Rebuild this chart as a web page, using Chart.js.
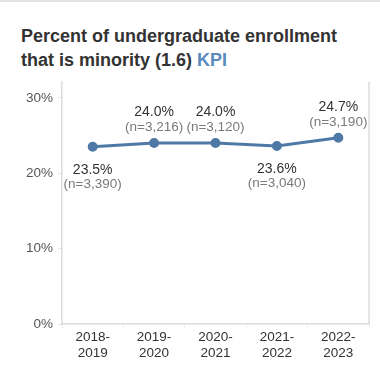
<!DOCTYPE html>
<html>
<head>
<meta charset="utf-8">
<script src="https://cdn.jsdelivr.net/npm/chart.js@4"></script>
<style>
  html, body { margin: 0; padding: 0; background: #fff; }
  body { width: 380px; height: 381px; position: relative; overflow: hidden; border-top: 2px solid #e2e2e2; box-sizing: border-box; }
  #title { position: absolute; left: 21px; top: 22px; font-family: "Liberation Sans", Arial, sans-serif; font-weight: bold; font-size: 18px; line-height: 24px; color: #333; }
  #title .kpi { color: #5b8ac0; }
  #wrap { position: absolute; left: 0; top: -2px; width: 380px; height: 381px; }
</style>
</head>
<body>
<div id="title">Percent of undergraduate enrollment<br>that is minority (1.6) <span class="kpi">KPI</span></div>
<div id="wrap"><canvas id="chart" width="380" height="381"></canvas></div>
<script>
// Datos
const years = [['2018-', '2019'], ['2019-', '2020'], ['2020-', '2021'], ['2021-', '2022'], ['2022-', '2023']];
const pctMinority = [23.5, 24.0, 24.0, 23.6, 24.7];
const nCounts = ['3,390', '3,216', '3,120', '3,040', '3,190'];
const labelSide = ['below', 'above', 'above', 'below', 'above'];
const yTicks = [0, 10, 20, 30];

const FONT = '"Liberation Sans", Arial, sans-serif';
const LINE = '#4e79a7';
const FRAME = '#dcdcdc';

// Etiquetas de datos sobre/debajo de cada punto
const pointLabels = {
    id: 'pointLabels',
    afterDatasetsDraw(chart) {
        const ctx = chart.ctx;
        const meta = chart.getDatasetMeta(0);
        ctx.save();
        ctx.textAlign = 'center';
        ctx.textBaseline = 'middle';
        meta.data.forEach((pt, i) => {
            const up = labelSide[i] === 'above';
            const yVal = up ? pt.y - 31 : pt.y + 23;
            const yN = up ? pt.y - 16 : pt.y + 37;
            ctx.font = '14px ' + FONT;
            ctx.fillStyle = '#333';
            ctx.fillText(pctMinority[i].toFixed(1) + '%', pt.x, yVal);
            ctx.font = '13.5px ' + FONT;
            ctx.fillStyle = '#7a7a7a';
            ctx.fillText('(n=' + nCounts[i] + ')', pt.x, yN);
        });
        ctx.restore();
    }
};

// Borde derecho del panel
const rightFrame = {
    id: 'rightFrame',
    beforeDatasetsDraw(chart) {
        const { ctx, chartArea } = chart;
        ctx.save();
        ctx.strokeStyle = FRAME;
        ctx.lineWidth = 1.5;
        ctx.beginPath();
        ctx.moveTo(chartArea.right, chartArea.top);
        ctx.lineTo(chartArea.right, chartArea.bottom);
        ctx.stroke();
        ctx.restore();
    }
};

new Chart(document.getElementById('chart'), {
    type: 'line',
    data: {
        labels: years,
        datasets: [{
            data: pctMinority,
            borderColor: LINE,
            backgroundColor: LINE,
            borderWidth: 3,
            pointRadius: 3.5,
            pointHoverRadius: 3.5,
            tension: 0
        }]
    },
    options: {
        responsive: false,
        animation: false,
        devicePixelRatio: 1,
        layout: { padding: { top: 82, right: 11, left: 0, bottom: 0 } },
        scales: {
            x: {
                offset: true,
                grid: { offset: true, drawOnChartArea: false, tickLength: 4, color: '#ececec' },
                border: { display: true, color: FRAME, width: 1.5 },
                ticks: { color: '#333', font: { family: FONT, size: 13.5 }, padding: 1, maxRotation: 0 },
                afterFit(s) { s.height = 57; }
            },
            y: {
                min: 0,
                max: 32.1,
                afterBuildTicks(s) { s.ticks = yTicks.map(v => ({ value: v })); },
                grid: { drawOnChartArea: false, tickLength: 4, color: '#e4e4e4' },
                border: { display: true, color: FRAME, width: 1.5 },
                ticks: {
                    color: '#555',
                    font: { family: FONT, size: 13.5 },
                    padding: 5,
                    callback: v => v + '%'
                },
                afterFit(s) { s.width = 62; }
            }
        },
        plugins: {
            legend: { display: false },
            tooltip: { enabled: false }
        }
    },
    plugins: [pointLabels, rightFrame]
});
</script>
</body>
</html>
